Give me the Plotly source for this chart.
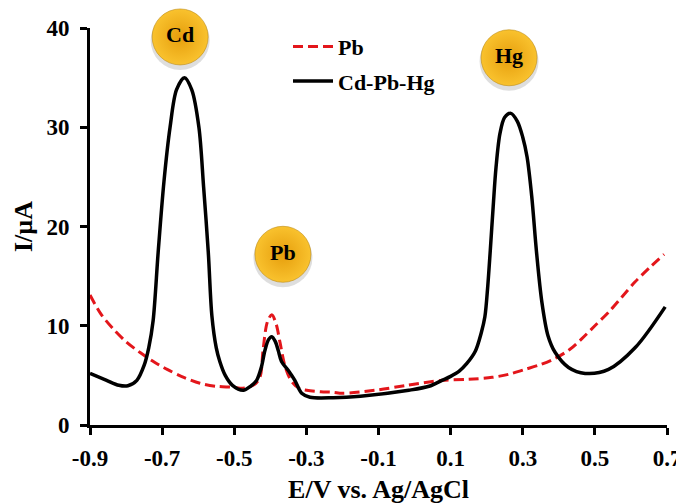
import plotly.graph_objects as go

# ---- data ----
pb_E = [-0.900, -0.870, -0.836, -0.800, -0.761, -0.720, -0.686, -0.640, -0.595, -0.550,
        -0.503, -0.484, -0.462, -0.440, -0.428, -0.420, -0.408, -0.396, -0.384, -0.373,
        -0.359, -0.341, -0.320, -0.299, -0.260, -0.226, -0.200, -0.110, -0.020, 0.076,
        0.150, 0.215, 0.260, 0.306, 0.350, 0.389, 0.430, 0.464, 0.500, 0.539,
        0.575, 0.611, 0.650, 0.692]
pb_I = [13.1, 11.2, 9.7, 8.4, 7.3, 6.3, 5.6, 4.8, 4.2, 3.9,
        3.8, 3.7, 3.8, 4.2, 4.9, 7.6, 10.4, 11.1, 10.2, 8.3,
        5.9, 4.4, 3.7, 3.5, 3.35, 3.3, 3.2, 3.5, 4.0, 4.5,
        4.6, 4.8, 5.1, 5.6, 6.1, 6.7, 7.6, 8.7, 10.0, 11.4,
        12.9, 14.4, 15.8, 17.2]

mix_E = [-0.900, -0.854, -0.820, -0.795, -0.770, -0.750, -0.737, -0.725, -0.711, -0.695,
         -0.678, -0.660, -0.638, -0.618, -0.598, -0.585, -0.572, -0.562, -0.550, -0.540,
         -0.525, -0.505, -0.475, -0.455, -0.438, -0.425, -0.415, -0.405, -0.396, -0.386,
         -0.378, -0.369, -0.350, -0.332, -0.313, -0.290, -0.226, -0.150, -0.016, 0.040,
         0.076, 0.100, 0.123, 0.145, 0.168, 0.185, 0.195, 0.203, 0.210, 0.218,
         0.226, 0.237, 0.250, 0.267, 0.285, 0.300, 0.312, 0.325, 0.338, 0.353,
         0.370, 0.390, 0.427, 0.473, 0.538, 0.612, 0.695]
mix_I = [5.2, 4.5, 4.0, 3.95, 4.5, 6.0, 7.8, 10.5, 17.4, 24.5,
         30.0, 33.8, 35.0, 33.8, 30.0, 24.0, 17.4, 11.0, 7.8, 6.4,
         5.0, 4.0, 3.5, 3.9, 4.5, 5.8, 7.5, 8.6, 8.9, 8.4,
         7.5, 6.4, 5.5, 4.5, 3.2, 2.8, 2.75, 2.9, 3.5, 3.9,
         4.5, 4.9, 5.4, 6.2, 7.4, 9.3, 10.9, 14.0, 17.6, 22.0,
         26.0, 29.4, 31.0, 31.4, 30.6, 29.0, 27.0, 23.0, 17.5, 12.4,
         9.0, 7.3, 5.8, 5.2, 5.6, 7.8, 11.9]

x_ticks = [-0.9, -0.7, -0.5, -0.3, -0.1, 0.1, 0.3, 0.5, 0.7]
x_tick_text = ["-0.9", "-0.7", "-0.5", "-0.3", "-0.1", "0.1", "0.3", "0.5", "0.7"]
y_ticks = [0, 10, 20, 30, 40]

label_text = ["Cd", "Pb", "Hg"]
label_E = [-0.650, -0.365, 0.262]
label_I = [39.1, 17.2, 37.0]

FONT = "Liberation Serif, Times New Roman, serif"

fig = go.Figure()
fig.add_trace(go.Scatter(
    x=pb_E, y=pb_I, name="Pb", mode="lines",
    line=dict(color="#E3161B", width=3, dash="10px,5px", shape="spline", smoothing=0.9),
    legendgroup="a"))
fig.add_trace(go.Scatter(
    x=mix_E, y=mix_I, name="Cd-Pb-Hg", mode="lines",
    line=dict(color="black", width=3.5, shape="spline", smoothing=0.9),
    legendgroup="b"))
# soft shadow under the element badges
fig.add_trace(go.Scatter(
    x=label_E, y=[v - 0.35 for v in label_I], mode="markers",
    showlegend=False, cliponaxis=False, hoverinfo="skip",
    marker=dict(size=59, color="rgba(0,0,0,0.13)", line=dict(width=0))))
fig.add_trace(go.Scatter(
    x=label_E, y=label_I, mode="markers+text", text=label_text,
    textposition="middle center", showlegend=False, cliponaxis=False,
    marker=dict(size=56, color="#F9C22E",
                gradient=dict(type="radial", color="#E69E0C"),
                line=dict(width=1, color="rgba(190,140,20,0.6)")),
    textfont=dict(family=FONT, size=22, color="black", weight="bold"),
    hoverinfo="skip"))

# page body has an 8px margin, so the figure is 8px smaller than the window
fig.update_layout(
    width=676, height=496,
    margin=dict(l=82, r=17, t=20, b=79, autoexpand=False),
    paper_bgcolor="white", plot_bgcolor="white",
    font=dict(family=FONT, size=22, color="black", weight="bold"),
    showlegend=True,
    legend=dict(x=(280 - 82) / 577, y=1.006, xanchor="left", yanchor="top",
                bgcolor="rgba(0,0,0,0)", borderwidth=0, itemwidth=40,
                font=dict(family=FONT, size=22, color="black", weight="bold"),
                traceorder="grouped", tracegroupgap=3),
    xaxis=dict(range=[-0.9, 0.7], tickvals=x_ticks, ticktext=x_tick_text,
               showgrid=False, zeroline=False, showline=True, linecolor="black", linewidth=3,
               ticks="outside", ticklen=7, tickwidth=3, tickcolor="black",
               ticklabelstandoff=3, automargin=False,
               tickfont=dict(family=FONT, size=23, color="black", weight="bold"),
               title=dict(text="E/V vs. Ag/AgCl", standoff=16,
                          font=dict(family=FONT, size=26, color="black", weight="bold"))),
    yaxis=dict(range=[0, 40], tickvals=y_ticks,
               showgrid=False, zeroline=False, showline=True, linecolor="black", linewidth=3,
               ticks="outside", ticklen=7, tickwidth=3, tickcolor="black",
               ticklabelstandoff=6, automargin=False,
               tickfont=dict(family=FONT, size=23, color="black", weight="bold"),
               title=dict(text="I/µA", standoff=7,
                          font=dict(family=FONT, size=26, color="black", weight="bold"))),
)

fig.write_html("out.html")
